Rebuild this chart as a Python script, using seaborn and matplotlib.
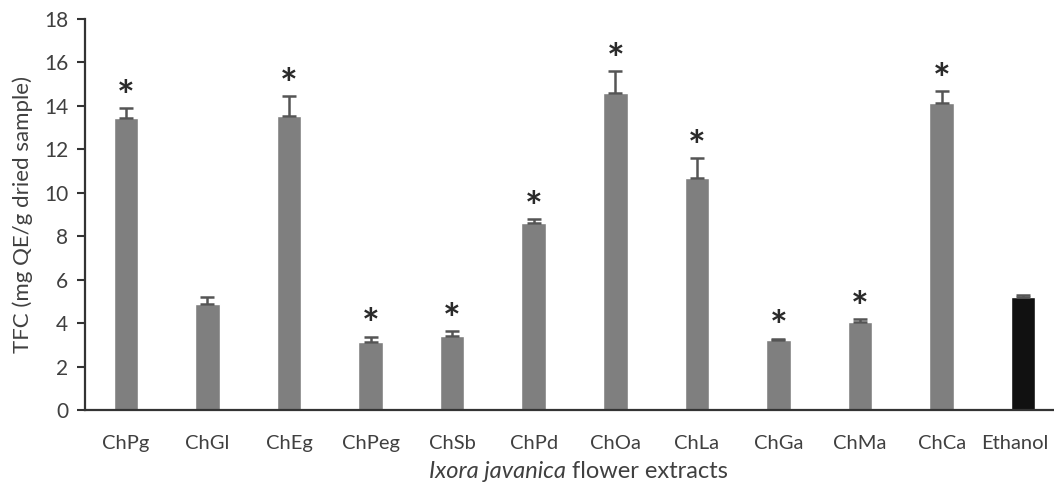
import numpy as np
import pandas as pd
import matplotlib
matplotlib.use("Agg")
import matplotlib.pyplot as plt
import matplotlib.transforms as mtransforms
import seaborn as sns

# Dữ liệu
extracts = ['ChPg', 'ChGl', 'ChEg', 'ChPeg', 'ChSb', 'ChPd', 'ChOa', 'ChLa', 'ChGa', 'ChMa', 'ChCa', 'Ethanol']
tfc = [13.46, 4.88, 13.52, 3.15, 3.41, 8.62, 14.61, 10.69, 3.2, 4.05, 14.12, 5.18]
sd = [0.42, 0.33, 0.94, 0.23, 0.22, 0.18, 1.0, 0.92, 0.09, 0.15, 0.56, 0.1]
significant = [True, False, True, True, True, True, True, True, True, True, True, False]
bar_colors = ['#7f7f7f'] * 11 + ['#111111']

sns.set_theme(style="white")
plt.rcParams['font.family'] = ['Lato', 'DejaVu Sans']

df = pd.DataFrame({'extract': extracts, 'tfc': tfc})

fig = plt.figure(figsize=(10.54, 4.87), dpi=100)
ax = fig.add_axes([85/1054, 77/487, 979/1054, 391/487])

sns.barplot(data=df, x='extract', y='tfc', hue='extract', palette=bar_colors,
            width=0.3, legend=False, ax=ax, saturation=1)

x = np.arange(len(extracts))
ax.errorbar(x, tfc, yerr=[np.zeros(len(sd)), sd], fmt='none', ecolor='#555555',
            elinewidth=1.8, capsize=5, capthick=1.8)

# dấu * cho các mẫu khác biệt có ý nghĩa
for i, (v, e, s) in enumerate(zip(tfc, sd, significant)):
    if s:
        ax.annotate('*', xy=(i, v + e), xytext=(0, -2), textcoords='offset points',
                    ha='center', va='baseline', fontsize=30, fontweight='bold', color='#2a2a2a')

ax.set_xlim(-0.5, 11.5)
ax.set_ylim(0, 18)
ax.set_yticks(range(0, 19, 2))
ax.set_ylabel('TFC (mg QE/g dried sample)', fontsize=16, color='#404040', labelpad=8)
ax.set_xlabel('')
fig.text(566/1054, 15/487, 'Ixora javanica', ha='right', va='center', fontsize=17,
         fontstyle='italic', color='#404040')
fig.text(572/1054, 15/487, 'flower extracts', ha='left', va='center', fontsize=17, color='#404040')

ax.tick_params(axis='y', which='major', left=True, length=6, width=1.5, color='#333333',
               labelsize=15, labelcolor='#404040', pad=6)
ax.tick_params(axis='x', bottom=False, labelsize=14.5, labelcolor='#404040', pad=12)
# nhãn cuối sát mép phải, dịch vào một chút
last = ax.get_xticklabels()[-1]
last.set_transform(last.get_transform() + mtransforms.ScaledTranslation(-6/72, 0, fig.dpi_scale_trans))

for side in ['top', 'right']:
    ax.spines[side].set_visible(False)
for side in ['left', 'bottom']:
    ax.spines[side].set_color('#333333')
    ax.spines[side].set_linewidth(1.6)

fig.savefig('out.png', dpi=100)
